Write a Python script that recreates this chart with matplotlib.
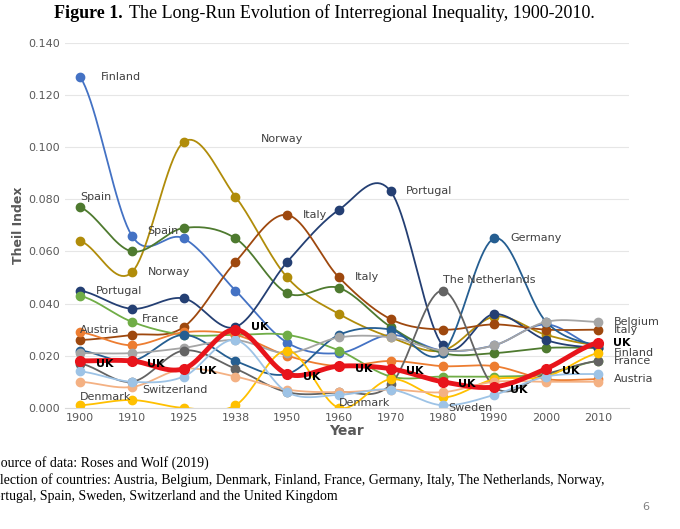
import numpy as np
import matplotlib.pyplot as plt

years = ["1900", "1910", "1925", "1938", "1950", "1960", "1970", "1980", "1990", "2000", "2010"]
finland     = [.127, .066, .065, .045, .025, .021, .028, .022, .024, .032, .023]
norway      = [.064, .052, .102, .081, .050, .036, .027, .022, .035, .028, .024]
spain       = [.077, .060, .069, .065, .044, .046, .031, .021, .021, .023, .023]
portugal    = [.045, .038, .042, .031, .056, .076, .083, .024, .036, .026, .023]
italy       = [.026, .028, .031, .056, .074, .050, .034, .030, .032, .030, .030]
france      = [.043, .033, .028, .028, .028, .022, .012, .012, .012, .013, .018]
austria     = [.029, .024, .029, .028, .020, .016, .018, .016, .016, .011, .011]
germany     = [.022, .018, .028, .018, .013, .028, .030, .021, .065, .033, .024]
belgium     = [.021, .021, .023, .026, .021, .027, .027, .022, .024, .033, .033]
netherlands = [.017, .010, .022, .015, .006, .006, .009, .045, .008, .013, .018]
denmark     = [.001, .003, .000, .001, .022, .000, .011, .004, .011, .012, .021]
switzerland = [.010, .008, .015, .012, .007, .006, .007, .006, .010, .010, .010]
sweden      = [.014, .010, .012, .026, .006, .005, .007, .001, .005, .012, .013]
uk          = [.018, .018, .015, .030, .013, .016, .015, .010, .008, .015, .025]

series = [
    (finland, "#4472C4"), (norway, "#B08C0A"), (spain, "#4E7A2F"), (portugal, "#243F73"),
    (italy, "#9E480E"), (france, "#70AD47"), (austria, "#ED7D31"), (germany, "#255E91"),
    (belgium, "#A5A5A5"), (netherlands, "#636363"), (denmark, "#FFC000"),
    (switzerland, "#F4B183"), (sweden, "#9DC3E6"),
]

def smooth(y, n=20):
    # Catmull-Rom spline through points, like Excel smoothed lines
    y = np.asarray(y)
    p = np.concatenate([[y[0]], y, [y[-1]]])
    xs, ys = [], []
    for i in range(len(y) - 1):
        t = np.linspace(0, 1, n, endpoint=False)
        p0, p1, p2, p3 = p[i], p[i + 1], p[i + 2], p[i + 3]
        ys.append(0.5 * (2 * p1 + (-p0 + p2) * t + (2 * p0 - 5 * p1 + 4 * p2 - p3) * t**2
                         + (-p0 + 3 * p1 - 3 * p2 + p3) * t**3))
        xs.append(i + t)
    xs.append([len(y) - 1]); ys.append([y[-1]])
    return np.concatenate(xs), np.concatenate(ys)

fig = plt.figure(figsize=(6.8, 5.29), dpi=100)
ax = fig.add_axes([0.095, 0.229, 0.83, 0.69])
x = np.arange(len(years))
for vals, c in series:
    sx, sy = smooth(vals)
    ax.plot(sx, sy, color=c, lw=1.3)
    ax.plot(x, vals, "o", color=c, ms=6)
sx, sy = smooth(uk)
ax.plot(sx, sy, color="#E8141B", lw=3.5)
ax.plot(x, uk, "o", color="#E8141B", ms=7)

lab = dict(fontsize=8, color="#404040")
ax.text(0.4, .127, "Finland", va="center", **lab)
ax.text(3.5, .103, "Norway", va="center", **lab)
ax.text(0, .081, "Spain", va="center", **lab)
ax.text(1.3, .068, "Spain", va="center", **lab)
ax.text(1.3, .052, "Norway", va="center", **lab)
ax.text(0.3, .045, "Portugal", va="center", **lab)
ax.text(1.2, .034, "France", va="center", **lab)
ax.text(0, .030, "Austria", va="center", **lab)
ax.text(4.3, .074, "Italy", va="center", **lab)
ax.text(5.3, .050, "Italy", va="center", **lab)
ax.text(6.3, .083, "Portugal", va="center", **lab)
ax.text(8.3, .065, "Germany", va="center", **lab)
ax.text(7.0, .049, "The Netherlands", va="center", **lab)
ax.text(0, .004, "Denmark", va="center", **lab)
ax.text(1.2, .007, "Switzerland", va="center", **lab)
ax.text(5, .002, "Denmark", va="center", **lab)
ax.text(7.1, .000, "Sweden", va="center", **lab)
for i, t in enumerate(["Belgium", "Italy", "UK", "Finland", "France", "Austria"]):
    y = [.033, .030, .025, .021, .018, .011][i]
    ax.text(10.3, y, t, va="center", fontsize=8,
            color="black" if t == "UK" else "#404040", fontweight="bold" if t == "UK" else None)
for i in range(10):
    ax.text(i + 0.3, uk[i] - .001 if i != 3 else uk[i] + .001, "UK", fontsize=8,
            fontweight="bold", va="center")

ax.set_xlim(-0.3, 10.6)
ax.set_ylim(0, 0.14)
ax.set_xticks(x, years)
ax.set_yticks(np.arange(0, 0.141, 0.02))
ax.yaxis.set_major_formatter(plt.FuncFormatter(lambda v, p: f"{v:.3f}"))
ax.tick_params(length=0, labelsize=8, colors="#595959")
ax.grid(axis="y", color="#E6E6E6", lw=0.8)
for s in ["top", "right", "left"]:
    ax.spines[s].set_visible(False)
ax.spines["bottom"].set_color("#D9D9D9")
ax.set_xlabel("Year", fontsize=10, fontweight="bold", color="#595959", labelpad=1)
ax.set_ylabel("Theil Index", fontsize=9, fontweight="bold", color="#595959", labelpad=2)

serif = "Liberation Serif"
fig.text(0.08, 0.975, "Figure 1.", ha="left", va="center", fontsize=13,
         fontweight="bold", family=serif)
fig.text(0.19, 0.975, "The Long-Run Evolution of Interregional Inequality, 1900-2010.",
         ha="left", va="center", fontsize=13, family=serif)
fig.text(-0.01, 0.118, "Source of data: Roses and Wolf (2019)", fontsize=10, family=serif)
fig.text(-0.02, 0.085, "Selection of countries: Austria, Belgium, Denmark, Finland, France, Germany, Italy, The Netherlands, Norway,",
         fontsize=10, family=serif)
fig.text(-0.02, 0.055, "Portugal, Spain, Sweden, Switzerland and the United Kingdom", fontsize=10, family=serif)
fig.text(0.945, 0.035, "6", fontsize=8, color="#808080")

fig.savefig("out.png")
